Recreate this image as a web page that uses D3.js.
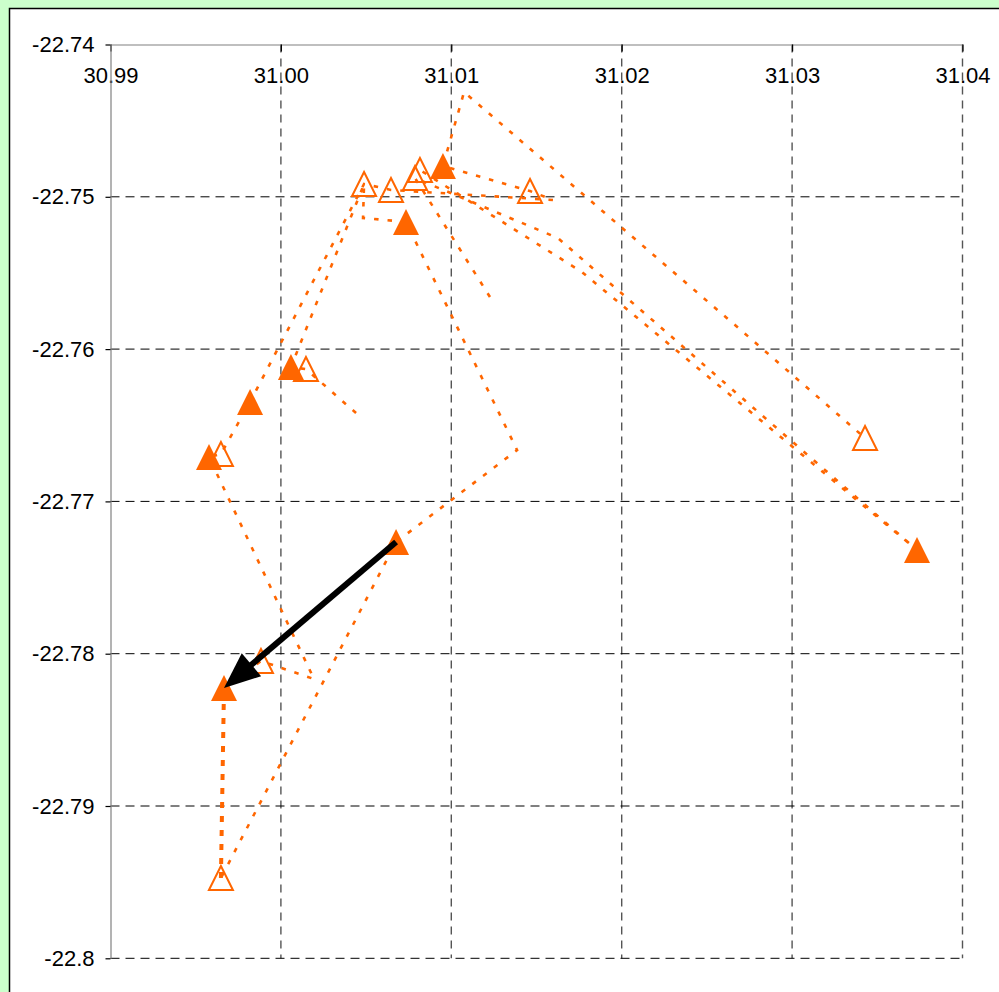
<!DOCTYPE html>
<html>
<head>
<meta charset="utf-8">
<script src="https://cdn.jsdelivr.net/npm/d3@7"></script>
<style>
  html, body { margin: 0; padding: 0; background: #CCFFCC; }
  svg { display: block; }
  text { font-family: "Liberation Sans", Arial, sans-serif; }
</style>
</head>
<body>
<svg id="chart" width="999" height="992"></svg>
<script>
// Axis ticks
const lonTicks = [30.99, 31.00, 31.01, 31.02, 31.03, 31.04];
const lonTickLabels = ["30.99", "31.00", "31.01", "31.02", "31.03", "31.04"];
const latTicks = [-22.74, -22.75, -22.76, -22.77, -22.78, -22.79, -22.80];
const latTickLabels = ["-22.74", "-22.75", "-22.76", "-22.77", "-22.78", "-22.79", "-22.8"];

// Fixes shown with filled triangles
const filledLon = [31.03733, 31.00951, 31.00734, 31.00059, 30.99819, 30.99578, 31.00676, 30.99666];
const filledLat = [-22.77319, -22.74798, -22.75165, -22.76118, -22.76347, -22.76709, -22.77267, -22.78225];

// Fixes shown with open triangles
const hollowLon = [31.03428, 31.01462, 31.00488, 31.00646, 31.00787, 31.00816, 31.00147, 30.99648, 30.99883, 30.99648];
const hollowLat = [-22.76584, -22.74962, -22.74916, -22.74955, -22.74877, -22.74824, -22.76131, -22.76689, -22.78048, -22.79473];

// Movement tracks (lon, lat)
const trackOne = [
  [31.00441, -22.76420], [31.00147, -22.76131], [31.00059, -22.76118], [31.00488, -22.74916],
  [31.00482, -22.75139], [31.00734, -22.75165], [31.01386, -22.76663], [31.00676, -22.77267],
  [30.99648, -22.79473]
];
const trackTwo = [
  [30.99666, -22.78225], [30.99883, -22.78048], [31.00194, -22.78166], [30.99578, -22.76709],
  [30.99648, -22.76689], [30.99819, -22.76347], [31.00488, -22.74916], [31.00646, -22.74955],
  [31.01597, -22.75021], [31.01462, -22.74962], [31.00951, -22.74798], [31.01075, -22.74312],
  [31.02665, -22.75842], [31.03428, -22.76584]
];
const trackThree = [
  [31.01227, -22.75658], [31.00787, -22.74877], [31.01626, -22.75271], [31.03733, -22.77319],
  [31.01767, -22.75494], [31.00816, -22.74824]
];
// Last leg, drawn heavier
const lastLeg = [[30.99648, -22.79473], [30.99666, -22.78225]];

// Displacement arrow: from -> to
const arrowLon = [31.00676, 30.99666];
const arrowLat = [-22.77267, -22.78225];

const W = 999, H = 992;
const plot = { left: 110.5, right: 962.5, top: 44.5, bottom: 958.3 };
const orange = "#FF6600";

const svg = d3.select("#chart");

// Chart area
svg.append("rect").attr("x", 9.5).attr("y", 8.5)
  .attr("width", W + 20).attr("height", H + 20)
  .attr("fill", "#fff").attr("stroke", "#000").attr("stroke-width", 1.5);

const x = d3.scaleLinear().domain([30.99, 31.04]).range([plot.left, plot.right]);
const y = d3.scaleLinear().domain([-22.74, -22.80]).range([plot.top, plot.bottom]);

// Gridlines
const grid = svg.append("g");
grid.selectAll("line.v").data(lonTicks.slice(1)).join("line")
  .attr("x1", d => x(d)).attr("x2", d => x(d))
  .attr("y1", plot.top).attr("y2", plot.bottom)
  .attr("stroke", "#555").attr("stroke-width", 1.4).attr("stroke-dasharray", "8,6");
grid.selectAll("line.h").data(latTicks.slice(1)).join("line")
  .attr("x1", plot.left).attr("x2", plot.right)
  .attr("y1", d => y(d)).attr("y2", d => y(d))
  .attr("stroke", "#000").attr("stroke-width", 1).attr("stroke-dasharray", "9,6");

// Axes: longitude along the top, latitude on the left
const xAxis = d3.axisBottom(x).tickValues(lonTicks)
  .tickFormat((d, i) => lonTickLabels[i]).tickSizeInner(7).tickSizeOuter(0).tickPadding(16);
const yAxis = d3.axisLeft(y).tickValues(latTicks)
  .tickFormat((d, i) => latTickLabels[i]).tickSizeInner(5).tickSizeOuter(0).tickPadding(11);

const gx = svg.append("g").attr("transform", `translate(0,${plot.top})`).call(xAxis);
const gy = svg.append("g").attr("transform", `translate(${plot.left},0)`).call(yAxis);
[gx, gy].forEach(g => {
  g.select(".domain").attr("stroke", "#808080").attr("stroke-width", 1.2);
  g.selectAll(".tick line").attr("stroke", "#000").attr("stroke-width", 1.2);
  g.selectAll(".tick text").attr("fill", "#000").style("font-size", "22px")
    .style("font-family", '"Liberation Sans", Arial, sans-serif');
});

// Tracks
const line = d3.line().x(d => x(d[0])).y(d => y(d[1]));
const tracks = svg.append("g").attr("fill", "none").attr("stroke", orange);
[trackOne, trackTwo, trackThree].forEach(t => {
  tracks.append("path").attr("d", line(t))
    .attr("stroke-width", 2.6).attr("stroke-dasharray", "4.5,9");
});
tracks.append("path").attr("d", line(lastLeg))
  .attr("stroke-width", 4).attr("stroke-dasharray", "6,8");

// Triangle markers
const tri = (cx, cy, s) => `M${cx},${cy - s}L${cx + s},${cy + s}L${cx - s},${cy + s}Z`;
svg.append("g").selectAll("path").data(d3.range(hollowLon.length)).join("path")
  .attr("d", i => tri(x(hollowLon[i]), y(hollowLat[i]), 12))
  .attr("fill", "none").attr("stroke", orange).attr("stroke-width", 2);
svg.append("g").selectAll("path").data(d3.range(filledLon.length)).join("path")
  .attr("d", i => tri(x(filledLon[i]), y(filledLat[i]), 13))
  .attr("fill", orange).attr("stroke", "none");

// Arrow
const x0 = x(arrowLon[0]), y0 = y(arrowLat[0]);
const x1 = x(arrowLon[1]), y1 = y(arrowLat[1]);
const ang = Math.atan2(y1 - y0, x1 - x0);
const headLen = 36, headHalf = 15;
const bx = x1 - headLen * Math.cos(ang), by = y1 - headLen * Math.sin(ang);
const arrow = svg.append("g");
arrow.append("line").attr("x1", x0).attr("y1", y0)
  .attr("x2", bx + 4 * Math.cos(ang)).attr("y2", by + 4 * Math.sin(ang))
  .attr("stroke", "#000").attr("stroke-width", 6);
arrow.append("path")
  .attr("d", `M${x1},${y1}L${bx - headHalf * Math.sin(ang)},${by + headHalf * Math.cos(ang)}` +
             `L${bx + headHalf * Math.sin(ang)},${by - headHalf * Math.cos(ang)}Z`)
  .attr("fill", "#000");
</script>
</body>
</html>
